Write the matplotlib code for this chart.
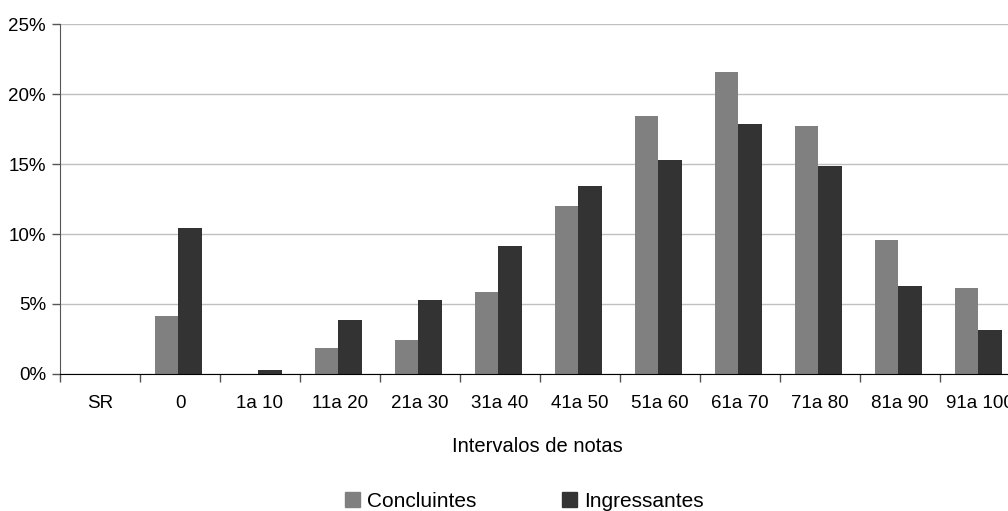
import numpy as np
import matplotlib.pyplot as plt
from matplotlib.ticker import FixedLocator, PercentFormatter
import matplotlib.patches as mpatches

plt.rcParams['font.family'] = ['Liberation Sans', 'DejaVu Sans']

# data
categories = ["SR", "0", "1a 10", "11a 20", "21a 30", "31a 40", "41a 50",
              "51a 60", "61a 70", "71a 80", "81a 90", "91a 100"]
concluintes = [0.0, 4.14, 0.0, 1.86, 2.43, 5.86, 12.0, 18.43, 21.57, 17.71, 9.57, 6.14]
ingressantes = [0.0, 10.43, 0.29, 3.86, 5.29, 9.14, 13.43, 15.29, 17.86, 14.86, 6.29, 3.14]

C_GRAY = "#808080"
C_DARK = "#333333"

fig = plt.figure(figsize=(10.08, 5.11), dpi=100)
# axes runs slightly past the right edge, like the original export
ax = fig.add_axes([60 / 1008, 1 - 374 / 511, 960 / 1008, 350 / 511])

x = np.arange(len(categories))
w = 0.29
ax.bar(x - w / 2 - 0.02, concluintes, width=w, color=C_GRAY, zorder=2)
ax.bar(x + w / 2 - 0.02, ingressantes, width=w, color=C_DARK, zorder=2)

ax.set_xlim(-0.5, len(categories) - 0.5)
ax.set_ylim(0, 25)

ax.set_yticks(np.arange(0, 26, 5))
ax.yaxis.set_major_formatter(PercentFormatter(decimals=0))
ax.yaxis.grid(True, color="#c0c0c0", linewidth=1.0, zorder=0)
ax.set_axisbelow(True)

# category labels centred, ticks at category boundaries
ax.set_xticks(x)
ax.set_xticklabels(categories)
ax.tick_params(axis="x", which="major", length=0, pad=15, labelsize=13.5)
ax.xaxis.set_minor_locator(FixedLocator(np.arange(-0.5, len(categories), 1.0)))
ax.tick_params(axis="x", which="minor", length=6, width=1, color="#555555", direction="out")
ax.tick_params(axis="y", length=6, width=1, color="#555555", pad=4, labelsize=13.5)

for s in ["top", "right"]:
    ax.spines[s].set_visible(False)
ax.spines["left"].set_color("#555555")
ax.spines["bottom"].set_color("#000000")

ax.set_xlabel("Intervalos de notas", fontsize=14.5, va="center")
ax.xaxis.set_label_coords((537 - 60) / 960, (374 - 446) / 350)

fig.legend(handles=[mpatches.Patch(color=C_GRAY, label="Concluintes"),
                    mpatches.Patch(color=C_DARK, label="Ingressantes")],
           loc="center", bbox_to_anchor=(524 / 1008, 1 - 501 / 511), ncol=2,
           frameon=False, fontsize=15, handlelength=0.72, handleheight=0.72,
           handletextpad=0.34, columnspacing=4.1, borderpad=0.2)

fig.savefig("out.png", dpi=100)
